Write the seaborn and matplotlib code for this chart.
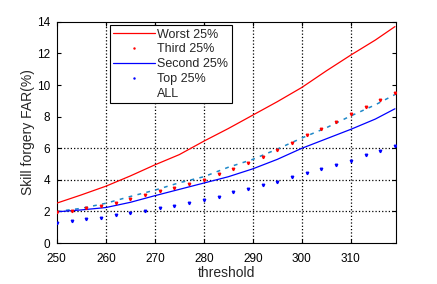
import numpy as np
import pandas as pd
import matplotlib
matplotlib.use("Agg")
import matplotlib.pyplot as plt
from matplotlib.lines import Line2D
import seaborn as sns

# values
thr_line = [250, 255, 260, 265, 270, 275, 280, 285, 290, 295, 300, 305, 310, 315, 319]
worst = [2.53, 3.05, 3.6, 4.25, 4.95, 5.6, 6.45, 7.25, 8.1, 8.95, 9.85, 10.9, 11.9, 12.85, 13.7]
second = [1.98, 2.1, 2.25, 2.58, 3.0, 3.4, 3.8, 4.2, 4.7, 5.3, 6.0, 6.6, 7.2, 7.85, 8.5]
all_far = [2.0, 2.2, 2.52, 2.95, 3.35, 3.82, 4.2, 4.8, 5.3, 5.95, 6.65, 7.3, 8.05, 8.75, 9.4]

thr_pts = list(range(250, 320, 3))
third = [1.95, 2.05, 2.2, 2.34, 2.55, 2.8, 3.05, 3.3, 3.5, 3.73, 3.99, 4.37,
         4.66, 5.08, 5.46, 5.89, 6.35, 6.85, 7.2, 7.68, 8.16, 8.63, 9.05, 9.5]
top = [1.3, 1.39, 1.5, 1.6, 1.77, 1.92, 2.03, 2.2, 2.36, 2.55, 2.75, 2.93,
       3.21, 3.42, 3.67, 3.88, 4.16, 4.45, 4.68, 4.92, 5.21, 5.55, 5.84, 6.16]

x_ticks = [250, 260, 270, 280, 290, 300, 310]
y_ticks = [0, 2, 4, 6, 8, 10, 12, 14]
x_grid = [260, 270, 280, 290, 300, 310]
y_grid = [2, 4, 6]

sns.set_style("white")
plt.rcParams['font.family'] = ['Liberation Sans', 'DejaVu Sans']

lines = pd.DataFrame({'threshold': thr_line, 'Worst': worst, 'Second': second, 'ALL': all_far})
pts = pd.DataFrame({'threshold': thr_pts, 'Third': third, 'Top': top})

fig = plt.figure(figsize=(4.37, 2.84), dpi=100)
ax = fig.add_axes([0.130, 0.144, 0.776, 0.779])

# dotted grid (only the lines visible in the reference)
for gx in x_grid:
    ax.axvline(gx, color='black', linestyle=':', linewidth=0.9, zorder=0.5)
for gy in y_grid:
    ax.axhline(gy, color='black', linestyle=':', linewidth=0.9, zorder=0.5)

sns.lineplot(data=lines, x='threshold', y='ALL', ax=ax, color='#1E88C8',
             linewidth=1.1, linestyle=(0, (2.5, 3.5)), zorder=2)
sns.lineplot(data=lines, x='threshold', y='Worst', ax=ax, color='#FF0000',
             linewidth=0.9, zorder=3)
sns.lineplot(data=lines, x='threshold', y='Second', ax=ax, color='#0000FF',
             linewidth=0.9, zorder=3)
ax.plot(pts['threshold'], pts['Third'], linestyle='none', marker='v',
        markersize=1.8, color='#FF0000', zorder=4)
ax.plot(pts['threshold'], pts['Top'], linestyle='none', marker='v',
        markersize=1.8, color='#0000FF', zorder=4)

ax.set_xlim(250, 319.2)
ax.set_ylim(0, 14)
ax.set_xticks(x_ticks)
ax.set_yticks(y_ticks)
ax.tick_params(direction='in', length=3, width=0.8, labelsize=8.5,
               top=True, right=True, bottom=True, left=True, colors='black')
ax.tick_params(axis='x', pad=7)
ax.tick_params(axis='y', pad=5)
ax.set_xlabel('threshold', fontsize=10, labelpad=1)
ax.set_ylabel('Skill forgery FAR(%)', fontsize=10, labelpad=1)
for sp in ax.spines.values():
    sp.set_color('black')
    sp.set_linewidth(0.8)

handles = [
    Line2D([], [], color='#FF0000', linewidth=0.9),
    Line2D([], [], color='#FF0000', linestyle='none', marker='.', markersize=1.5),
    Line2D([], [], color='#0000FF', linewidth=0.9),
    Line2D([], [], color='#0000FF', linestyle='none', marker='.', markersize=1.5),
    Line2D([], [], color='none'),
]
labels = ['Worst 25%', 'Third 25%', 'Second 25%', 'Top 25%', 'ALL']
leg = ax.legend(handles, labels, loc='upper left', bbox_to_anchor=(0.156, 0.986),
                fontsize=9, handlelength=3.3, handletextpad=0.2,
                labelspacing=0.22, borderpad=0.3, borderaxespad=0,
                frameon=True, fancybox=False, framealpha=1)
leg.get_frame().set_edgecolor('black')
leg.get_frame().set_linewidth(0.8)
leg.set_zorder(10)

fig.savefig('out.png', dpi=100)
